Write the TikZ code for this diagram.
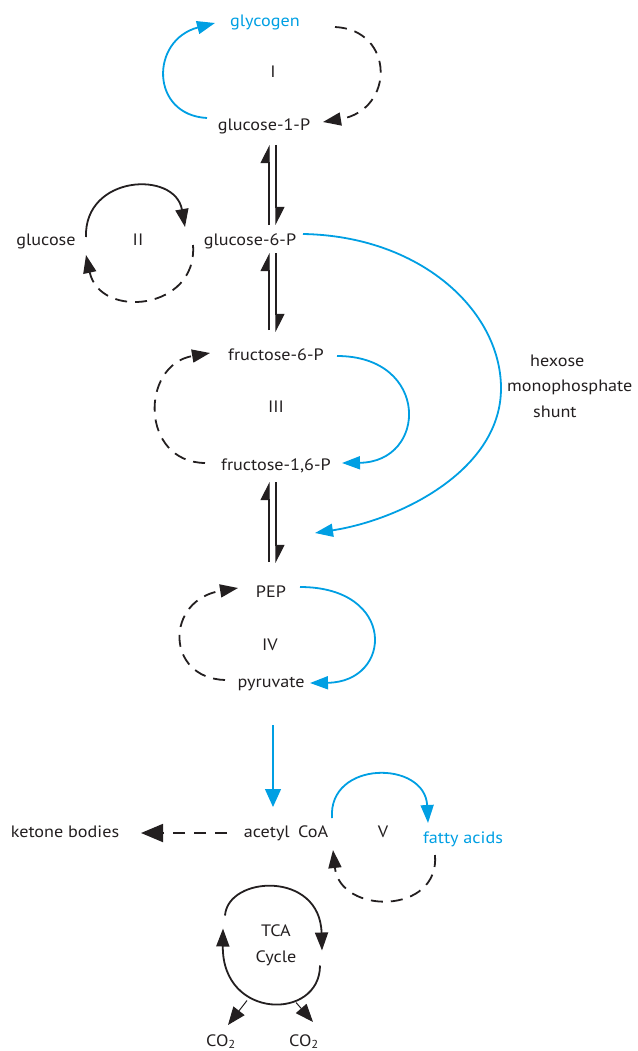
\documentclass[tikz,border=0pt]{standalone}
\usepackage{fontspec}
\setmainfont[FakeStretch=1.1]{PT Sans}
\usetikzlibrary{arrows.meta,calc}
\definecolor{cblue}{HTML}{009FE3}
\definecolor{cdark}{HTML}{231F20}
\begin{document}
\begin{tikzpicture}[x=1pt,y=-1pt,
  lbl/.style={font=\fontsize{16.5}{19}\selectfont, text=cdark, inner sep=0pt, text height=12pt, text depth=3.5pt},
  bluelbl/.style={lbl, text=cblue},
  mlbl/.style={font=\fontsize{16.5}{25.5}\selectfont, text=cdark, inner sep=0pt, align=center},
  tip/.style={-{Triangle[length=18pt,width=13pt]}},
  loopsolid/.style={line width=1.8pt, draw=cdark, tip},
  loopdash/.style={line width=1.8pt, draw=cdark, dash pattern=on 12pt off 8pt, tip},
  loopblue/.style={line width=1.8pt, draw=cblue, tip},
  eqarrow/.style={line width=1.1pt, draw=cdark, -{Triangle[harpoon,length=17pt,width=17pt]}},
  thinblue/.style={line width=1.3pt, draw=cblue, -{Triangle[length=18pt,width=16pt]}},
  ketarrow/.style={line width=1.8pt, draw=cdark, dash pattern=on 12pt off 9pt, -{Triangle[length=22pt,width=18pt]}},
  co2arrow/.style={line width=1pt, draw=cdark, -{Triangle[length=18pt,width=14pt]}}
]
\useasboundingbox (0,0) rectangle (637,1051);

% nodes
\node[bluelbl] (glycogen) at (265,22) {glycogen};
\node[lbl] (rI) at (273,73) {I};
\node[lbl] (g1p) at (264,126) {glucose-1-P};
\node[lbl] (glucose) at (46,241) {glucose};
\node[lbl] (rII) at (138,241) {II};
\node[lbl] (g6p) at (250,241) {glucose-6-P};
\node[lbl] (f6p) at (276,356) {fructose-6-P};
\node[lbl] (rIII) at (276,408) {III};
\node[lbl] (f16p) at (276,466) {fructose-1,6-P};
\node[lbl] (pep) at (271,593) {PEP};
\node[lbl] (rIV) at (270,646) {IV};
\node[lbl] (pyr) at (271,683) {pyruvate};
\node[lbl] (acoa) at (286,833) {acetyl\hspace{0.5em}CoA};
\node[lbl] (ketone) at (65,833) {ketone bodies};
\node[lbl] (rV) at (383,833) {V};
\node[bluelbl] (fatty) at (463,839) {fatty acids};
\node[mlbl] (tca) at (276,945.5) {TCA\\Cycle};
\node[mlbl, align=left, anchor=west] (hms) at (507,386) {\hspace{23pt}hexose\\monophosphate\\\hspace{26pt}shunt};
\node[lbl] (co2a) at (221,1042) {CO\textsubscript{2}};
\node[lbl] (co2b) at (304,1042) {CO\textsubscript{2}};

% cycle I
\draw[loopblue] ($(g1p)+(-57,-8)$) .. controls +(-57,-3) and +(-65,17) .. ($(glycogen)+(-50,1)$);
\draw[loopdash] ($(glycogen)+(70,5)$) .. controls +(60,3) and +(72,-12) .. ($(g1p)+(59,-4)$);

% equilibrium arrows
\draw[eqarrow] ($(g6p)+(19,-16)$) -- ($(g1p)+(5,19)$);
\draw[eqarrow] ($(g1p)+(12,19)$) -- ($(g6p)+(26,-16)$);
\draw[eqarrow] ($(f6p)+(-7,-26)$) -- ($(g6p)+(19,12)$);
\draw[eqarrow] ($(g6p)+(26,12)$) -- ($(f6p)+(0,-24)$);
\draw[eqarrow] ($(pep)+(-2,-31)$) -- ($(f16p)+(-7,16)$);
\draw[eqarrow] ($(f16p)+(0,16)$) -- ($(pep)+(5,-30)$);

% cycle II
\draw[loopsolid] ($(glucose)+(40,-4)$) .. controls +(-2,-62) and +(-10,-57) .. ($(g6p)+(-65,-14)$);
\draw[loopdash] ($(g6p)+(-57,4)$) .. controls +(5,65) and +(14,65) .. ($(glucose)+(40,14)$);

% cycle III
\draw[loopdash] ($(f16p)+(-71,-3)$) .. controls +(-65,-1) and +(-70,12) .. ($(f6p)+(-66,-3)$);
\draw[loopblue] ($(f6p)+(61,0)$) .. controls +(93,0) and +(86,-1) .. ($(f16p)+(66,-3)$);

% hexose monophosphate shunt
\coordinate (hmsmid) at ($(g6p)+(251,146)$);
\draw[loopblue] ($(g6p)+(53,-7)$) .. controls +(117,2) and +(-1,-77) .. (hmsmid)
   .. controls +(1,83) and +(85,-13) .. ($(f16p)+(39,67)$);

% cycle IV
\draw[loopdash] ($(pyr)+(-46,-3)$) .. controls +(-60,-2) and +(-73,12) .. ($(pep)+(-33,-5)$);
\draw[loopblue] ($(pep)+(29,-6)$) .. controls +(97,0) and +(83,-1) .. ($(pyr)+(39,0)$);

% pyruvate -> acetyl CoA
\draw[thinblue] ($(pyr)+(2,42)$) -- ($(acoa)+(-13,-26)$);

% acetyl CoA -> ketone bodies
\draw[ketarrow] ($(acoa)+(-59,0)$) -- ($(ketone)+(76,0)$);

% cycle V
\draw[loopblue] ($(acoa)+(46,-15)$) .. controls +(-4,-58) and +(-3,-63) .. ($(fatty)+(-35,-16)$);
\draw[loopdash] ($(fatty)+(-28,16)$) .. controls +(5,60) and +(7,65) .. ($(acoa)+(47,17)$);

% TCA cycle
\draw[loopsolid] ($(tca)+(-51,-30)$) .. controls +(3,-40) and +(-2,-80) .. ($(tca)+(46,5)$);
\draw[loopsolid] ($(tca)+(44,20)$) .. controls +(0,55) and +(-1,92) .. ($(tca)+(-53,-17)$);
\draw[co2arrow] ($(tca)+(-29,55)$) -- ($(co2a)+(7,-17)$);
\draw[co2arrow] ($(tca)+(20,57)$) -- ($(co2b)+(9,-20)$);
\end{tikzpicture}
\end{document}
